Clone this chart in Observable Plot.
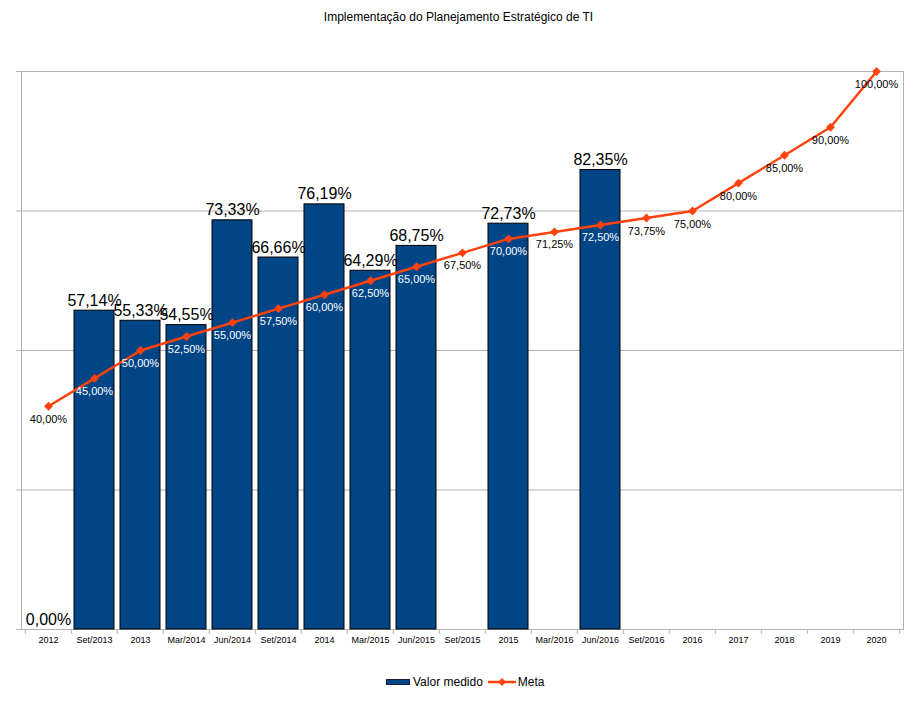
<!DOCTYPE html>
<html>
<head>
<meta charset="utf-8">
<script src="https://cdn.jsdelivr.net/npm/d3@7"></script>
<script src="https://cdn.jsdelivr.net/npm/@observablehq/plot@0.6"></script>
<style>
  body { margin: 0; background: #fff; font-family: "Liberation Sans", Arial, sans-serif; }
  #wrap { position: relative; width: 917px; height: 701px; overflow: hidden; }
  #title { position: absolute; top: 10px; left: 0; width: 917px; text-align: center; font-size: 12px; color: #000; }
  #chart { position: absolute; top: 0; left: 0; }
  #legend { position: absolute; top: 675px; left: 386px; display: flex; align-items: center; font-size: 12px; color: #000; }
  #legend .item { display: flex; align-items: center; }
  #legend svg { display: block; }
</style>
</head>
<body>
<div id="wrap">
  <div id="chart"></div>
  <div id="title">Implementação do Planejamento Estratégico de TI</div>
  <div id="legend"></div>
</div>
<script>
const categories = ["2012","Set/2013","2013","Mar/2014","Jun/2014","Set/2014","2014","Mar/2015","Jun/2015","Set/2015","2015","Mar/2016","Jun/2016","Set/2016","2016","2017","2018","2019","2020"];
const valorMedido = [0, 57.14, 55.33, 54.55, 73.33, 66.66, 76.19, 64.29, 68.75, null, 72.73, null, 82.35, null, null, null, null, null, null];
const meta = [40, 45, 50, 52.5, 55, 57.5, 60, 62.5, 65, 67.5, 70, 71.25, 72.5, 73.75, 75, 80, 85, 90, 100];
const yTicks = [0, 25, 50, 75, 100];
const seriesNames = ["Valor medido", "Meta"];

const barColor = "#004586";
const lineColor = "#ff420e";
const gridColor = "#b3b3b3";

const rows = categories.map((c, i) => ({cat: c, valor: valorMedido[i], meta: meta[i]}));
const fmt = v => v.toFixed(2).replace(".", ",") + "%";

const W = 917, H = 660, mL = 21, mR = 14, mT = 71, mB = 31;
const step = (W - mL - mR) / categories.length;

const plot = Plot.plot({
  width: W,
  height: H,
  marginLeft: mL,
  marginRight: mR,
  marginTop: mT,
  marginBottom: mB,
  style: {fontFamily: "'Liberation Sans', Arial, sans-serif", background: "#fff", overflow: "visible"},
  x: {type: "band", domain: categories, paddingInner: 0.14, paddingOuter: 0.07, label: null},
  y: {domain: [0, 100], label: null},
  marks: [
    Plot.gridY(yTicks, {stroke: gridColor, strokeOpacity: 1}),
    Plot.axisY(yTicks, {tickSize: 5, tickFormat: () => "", stroke: gridColor, strokeOpacity: 1}),
    Plot.frame({stroke: gridColor}),
    Plot.axisX({tickSize: 0, fontSize: 9, fill: "#000", tickPadding: 7, label: null}),
    Plot.axisX({tickSize: 5, tickFormat: () => "", dx: -step / 2, stroke: gridColor, strokeOpacity: 1, label: null}),
    Plot.axisX([categories[categories.length - 1]], {tickSize: 5, tickFormat: () => "", dx: step / 2, stroke: gridColor, strokeOpacity: 1, label: null}),
    Plot.barY(rows.filter(d => d.valor != null && d.valor > 0), {x: "cat", y: "valor", fill: barColor, stroke: "#000", strokeWidth: 1}),
    Plot.line(rows, {x: "cat", y: "meta", stroke: lineColor, strokeWidth: 2.5}),
    Plot.dot(rows, {x: "cat", y: "meta", symbol: "diamond2", r: 4, fill: lineColor, stroke: "none"}),
    Plot.text(rows, {x: "cat", y: "meta", text: d => fmt(d.meta), dy: 13, fontSize: 11,
      fill: d => (d.valor != null && d.valor > d.meta) ? "#fff" : "#000"}),
    Plot.text(rows.filter(d => d.valor != null), {x: "cat", y: "valor", text: d => fmt(d.valor), lineAnchor: "bottom", dy: -5, fontSize: 16, fill: "#000"})
  ]
});
document.getElementById("chart").appendChild(plot);

// legend
const legend = document.getElementById("legend");
legend.innerHTML = `
  <div class="item">
    <svg width="24" height="10"><rect x="0.5" y="2.5" width="23" height="5" fill="${barColor}" stroke="#1a1a40" stroke-width="1"></rect></svg>
    <span style="margin-left:3px">${seriesNames[0]}</span>
  </div>
  <div class="item" style="margin-left:5px">
    <svg width="28" height="10"><line x1="0" y1="5" x2="28" y2="5" stroke="${lineColor}" stroke-width="2.5"></line>
    <path d="M14,1 L18,5 L14,9 L10,5 Z" fill="${lineColor}"></path></svg>
    <span style="margin-left:2px">${seriesNames[1]}</span>
  </div>`;
</script>
</body>
</html>
